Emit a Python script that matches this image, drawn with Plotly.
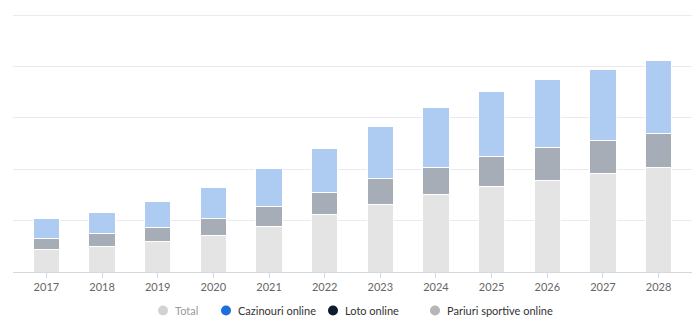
import plotly.graph_objects as go

years = ["2017", "2018", "2019", "2020", "2021", "2022", "2023", "2024", "2025", "2026", "2027", "2028"]
pariuri_sportive = [0.43, 0.50, 0.59, 0.71, 0.89, 1.11, 1.32, 1.50, 1.66, 1.79, 1.91, 2.03]
loto_online = [0.23, 0.24, 0.27, 0.34, 0.39, 0.43, 0.49, 0.54, 0.59, 0.64, 0.65, 0.67]
cazinouri_online = [0.38, 0.42, 0.51, 0.59, 0.73, 0.86, 1.03, 1.17, 1.26, 1.32, 1.39, 1.41]
legend_names = ["Total", "Cazinouri online", "Loto online", "Pariuri sportive online"]
legend_colors = ["#d2d2d2", "#1f6fdb", "#0d1b30", "#b6b6b6"]
legend_text_colors = ["#9a9a9a", "#333333", "#333333", "#333333"]
legend_x_px = [163, 226, 333, 435]

fig = go.Figure()
for name, vals, col in [
    ("Pariuri sportive online", pariuri_sportive, "#e4e4e4"),
    ("Loto online", loto_online, "#a6adb6"),
    ("Cazinouri online", cazinouri_online, "#aecbf2"),
]:
    fig.add_trace(go.Bar(
        x=years, y=vals, name=name, marker=dict(color=col, line=dict(color="white", width=1)),
        showlegend=False, hoverinfo="skip",
    ))

W, H = 700, 323
ml, mr, mt, mb = 13, 8, 13, 51
ymax = 5.04
shapes = []
annotations = []
for name, col, tcol, px in zip(legend_names, legend_colors, legend_text_colors, legend_x_px):
    xp = (px - ml) / (W - ml - mr)
    yp = -(310.5 - (H - mb)) / (H - mt - mb)
    shapes.append(dict(type="circle", xref="paper", yref="paper", xsizemode="pixel", ysizemode="pixel",
                       xanchor=xp, yanchor=yp, x0=-5, x1=5, y0=-5, y1=5,
                       fillcolor=col, line=dict(width=0)))
    annotations.append(dict(text=name, xref="paper", yref="paper", x=xp + 9.5 / (W - ml - mr), y=yp,
                            xanchor="left", yanchor="middle", showarrow=False,
                            font=dict(family="Lato", size=11, color=tcol)))

fig.update_layout(
    width=W, height=H, margin=dict(l=ml, r=mr, t=mt, b=mb),
    barmode="stack", bargap=0.53,
    plot_bgcolor="white", paper_bgcolor="white",
    showlegend=False,
    shapes=shapes, annotations=annotations,
    xaxis=dict(type="category", range=[-0.6, 11.6], showgrid=False,
               showline=True, linecolor="#d4d9e1", linewidth=1,
               ticks="outside", ticklen=5, tickcolor="#d4d9e1", tickwidth=1,
               tickfont=dict(family="Lato", size=11, color="#666666")),
    yaxis=dict(range=[0, ymax], dtick=1, showgrid=True, gridcolor="#ebebeb", gridwidth=1,
               showticklabels=False, zeroline=False, fixedrange=True),
)

fig.write_html("out.html")
